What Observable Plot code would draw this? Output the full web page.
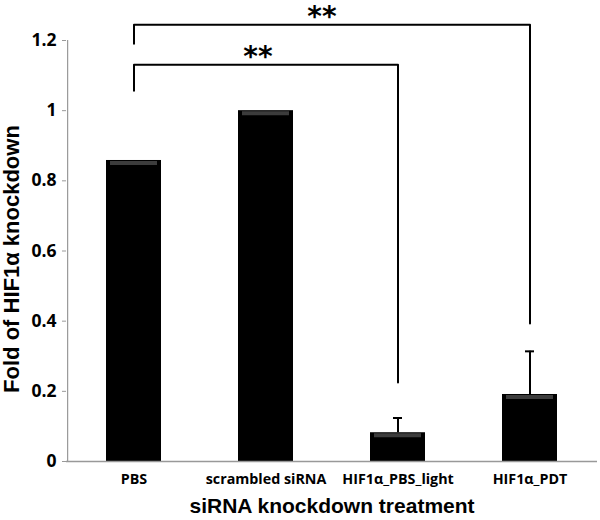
<!DOCTYPE html>
<html><head><meta charset="utf-8">
<script src="https://cdn.jsdelivr.net/npm/d3@7"></script>
<script src="https://cdn.jsdelivr.net/npm/@observablehq/plot@0.6"></script>
<style>body{margin:0;background:#fff} #chart svg{display:block}</style>
</head><body><div id="chart"></div>
<script>
const categories = ["PBS", "scrambled siRNA", "HIF1α_PBS_light", "HIF1α_PDT"];
const values = [0.858, 1.0, 0.082, 0.191];
const errors = [0, 0, 0.042, 0.123];
const yTicks = [0, 0.2, 0.4, 0.6, 0.8, 1, 1.2];
const xTitle = "siRNA knockdown treatment";
const yTitle = "Fold of HIF1α knockdown";
// significance brackets: inner (PBS vs HIF1α_PBS_light), outer (PBS vs HIF1α_PDT)
const bracketFrom = ["PBS", "PBS"];
const bracketTo = ["HIF1α_PBS_light", "HIF1α_PDT"];
const bracketTop = [1.131, 1.245];
const bracketLeftEnd = [1.057, 1.191];
const bracketRightEnd = [0.225, 0.393];
const bracketLabels = ["**", "**"];

const data = categories.map((c, i) => ({cat: c, value: values[i], err: errors[i], hi: values[i] + errors[i]}));
const errData = data.filter(d => d.err > 0);
const bracketPts = bracketFrom.flatMap((f, i) => [
  {b: i, x: f, y: bracketLeftEnd[i]},
  {b: i, x: f, y: bracketTop[i]},
  {b: i, x: bracketTo[i], y: bracketTop[i]},
  {b: i, x: bracketTo[i], y: bracketRightEnd[i]}
]);

const W = 600, H = 520, mL = 66, mR = 3, mT = 0, mB = 59;
const yMax = 1.2 * (H - mT - mB) / 421; // 1.2 sits ~40px below the top
const step = (W - mL - mR) / categories.length;
const tickFont = "'Open Sans', sans-serif";
const titleFont = "'Liberation Sans', Arial, sans-serif";
const starDx = [124, 188];
const fmt = d => String(+d.toFixed(1));

const chart = Plot.plot({
  width: W, height: H,
  marginLeft: mL, marginRight: mR, marginTop: mT, marginBottom: mB,
  style: {fontFamily: tickFont, background: "#fff", color: "#000"},
  x: {domain: categories, paddingInner: 0.585, paddingOuter: 0.2925, axis: null},
  y: {domain: [0, yMax], axis: null},
  marks: [
    Plot.barY(data, {x: "cat", y: "value", fill: "#000"}),
    Plot.tickY(data, {x: "cat", y: "value", stroke: "#3c3c3c", strokeWidth: 4, dy: 2.5, insetLeft: 4, insetRight: 4}),
    Plot.ruleX(errData, {x: "cat", y1: "value", y2: "hi", stroke: "#000", strokeWidth: 2}),
    Plot.tickY(errData, {x: "cat", y: "hi", stroke: "#000", strokeWidth: 2, insetLeft: 23, insetRight: 23}),
    Plot.ruleY([0], {stroke: "#999", strokeWidth: 1.5}),
    Plot.ruleX([categories[0]], {y1: 0, y2: yTicks[yTicks.length - 1], dx: -step / 2, stroke: "#999", strokeWidth: 1.2}),
    Plot.axisY({ticks: yTicks, tickSize: 4, stroke: "#999", tickFormat: () => "", label: null}),
    Plot.text(yTicks, {y: d => d, text: fmt, frameAnchor: "left", textAnchor: "end", dx: -10,
      fontSize: 17.5, fontWeight: "bold", fill: "#000"}),
    Plot.text(categories, {x: d => d, frameAnchor: "bottom", dy: 22, fontSize: 14.3, fontWeight: "bold", fill: "#000"}),
    Plot.line(bracketPts, {x: "x", y: "y", z: "b", stroke: "#000", strokeWidth: 2, strokeLinejoin: "round"}),
    ...bracketLabels.map((t, i) => Plot.text([t], {x: () => bracketFrom[i], y: () => bracketTop[i], dx: starDx[i], dy: 1,
      lineAnchor: "bottom", fontSize: 28, fontWeight: "bold", fontFamily: "'DejaVu Sans', sans-serif", fill: "#000"})),
    Plot.text([xTitle], {frameAnchor: "bottom", dy: 51, fontSize: 21, fontWeight: "bold", fontFamily: titleFont, fill: "#000"}),
    Plot.text([yTitle], {frameAnchor: "left", textAnchor: "middle", dx: -54.5, dy: 28, rotate: -90, fontSize: 22, fontWeight: "bold", fontFamily: titleFont, fill: "#000"})
  ]
});
document.getElementById("chart").append(chart);
</script>
</body></html>
